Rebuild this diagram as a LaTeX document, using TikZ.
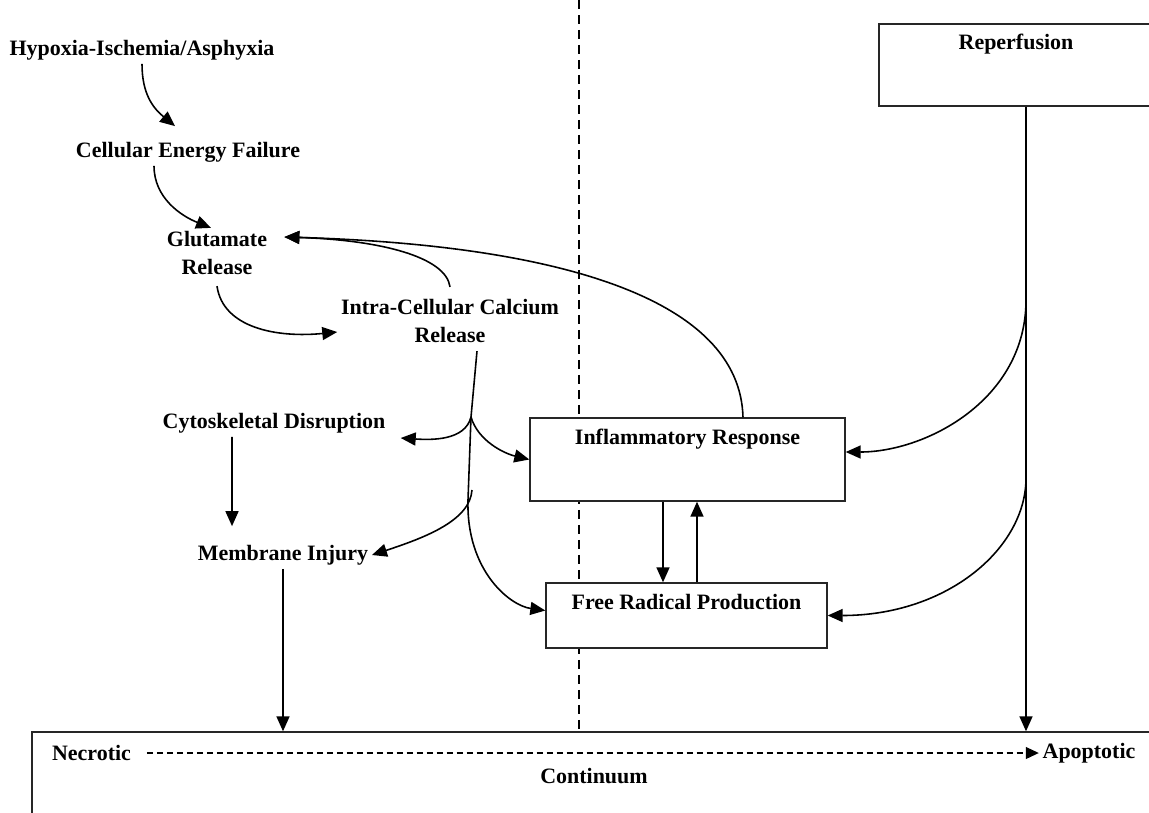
\documentclass[tikz,border=0pt]{standalone}
\usepackage{fontspec}
\setmainfont{Liberation Serif}
\usetikzlibrary{arrows.meta}

\begin{document}
\begin{tikzpicture}[x=0.02cm, y=-0.02cm,
  every node/.style={font=\fontsize{12.5}{15.4}\selectfont\bfseries},
  txt/.style={inner sep=2pt, align=center},
  procbox/.style={draw=black!85, fill=white, line width=0.8pt, inner sep=0pt},
  lbl/.style={anchor=north, yshift=-0.16cm, inner sep=2pt},
  arr/.style={line width=0.9pt, -{Triangle[length=0.3cm, width=0.26cm]}}]
\useasboundingbox (0,0) rectangle (1149,812);

% dividing line
\draw[line width=0.7pt, dash pattern=on 0.18cm off 0.12cm] (579,0) -- (579,732);

% cascade
\node[txt] (hypoxia) at (142,50) {Hypoxia-Ischemia/Asphyxia};
\node[txt] (energy) at (188,152) {Cellular Energy Failure};
\node[txt] (glutamate) at (217,253) {Glutamate\\Release};
\node[txt] (calcium) at (450,321) {Intra-Cellular Calcium\\Release};
\node[txt] (cyto) at (274,423) {Cytoskeletal Disruption};
\node[txt] (membrane) at (283,555) {Membrane Injury};

% boxes
\node[procbox, minimum width=6.3cm, minimum height=1.66cm,
  label={[lbl]north:Inflammatory Response}] (inflam) at (687.5,459.5) {};
\node[procbox, minimum width=5.62cm, minimum height=1.3cm,
  label={[lbl]north:Free Radical Production}] (radical) at (686.5,615.5) {};
\node[procbox, minimum width=5.48cm, minimum height=1.64cm,
  label={[lbl, yshift=0.02cm]north:Reperfusion}] (reperf) at (1016,65) {};
\node[procbox, minimum width=22.48cm, minimum height=1.8cm,
  label={[lbl, yshift=-0.5cm]north:Continuum}] (outcome) at (594,777) {};
\node[txt] (necrotic) at (91.5,753) {Necrotic};
\node[txt] (apoptotic) at (1089,753) {Apoptotic};

% left chain
\draw[arr] (hypoxia.south) .. controls +(0,30) and +(-22,-18) .. ([xshift=-0.26cm, yshift=0.24cm]energy.north);
\draw[arr] ([xshift=-0.68cm]energy.south) .. controls +(0,32) and +(-30,-12) .. ([xshift=-0.12cm]glutamate.north);
\draw[arr] ([yshift=-0.16cm]glutamate.south) .. controls +(6,42) and +(-60,6) .. ([yshift=-0.22cm]calcium.west);
\draw[arr] ([yshift=0.18cm]calcium.north) .. controls +(-4,-30) and +(96,3) .. ([xshift=0.27cm, yshift=0.32cm]glutamate.east);
\draw[arr] ([xshift=1.11cm]inflam.north) .. controls +(-3,-118) and +(276,8) .. ([xshift=0.27cm, yshift=0.32cm]glutamate.east);

% calcium branches
\coordinate (casplit) at (471,417);
\coordinate (mbsplit) at (472,490);
\draw[line width=0.9pt] ([xshift=0.54cm, yshift=-0.1cm]calcium.south) -- (casplit);
\draw[arr] (casplit) .. controls +(-6,24) and +(30,2) .. ([xshift=0.23cm, yshift=-0.3cm]cyto.east);
\draw[arr] (casplit) .. controls +(7,24) and +(-25,-6) .. (inflam.west);
\draw[arr] (casplit) -- ++(-3,83) .. controls +(-2,70) and +(-36,-5) .. ([yshift=0.1cm]radical.west);
\draw[arr] (mbsplit) .. controls +(-2,30) and +(55,-18) .. (membrane.east);

\draw[arr] ([xshift=-0.84cm]cyto.south) -- ([xshift=-1.02cm, yshift=0.3cm]membrane.north);
\draw[arr] (membrane.south) -- (membrane.south |- outcome.north);

% inflammation <-> radicals
\draw[arr] ([xshift=-0.49cm]inflam.south) -- ([xshift=-0.49cm]inflam.south |- radical.north);
\draw[arr] ([xshift=0.19cm]inflam.south |- radical.north) -- ([xshift=0.19cm]inflam.south);

% reperfusion
\coordinate (rpa) at (1026,300);
\coordinate (rpb) at (1026,478);
\draw[arr] ([xshift=0.2cm]reperf.south) -- ([xshift=0.2cm]reperf.south |- outcome.north);
\draw[arr] (rpa) .. controls +(0,100) and +(80,0) .. ([yshift=0.15cm]inflam.east);
\draw[arr] (rpb) .. controls +(0,70) and +(120,0) .. (radical.east);

% continuum
\draw[line width=0.6pt, dash pattern=on 0.12cm off 0.08cm, shorten <=0.24cm,
  -{Triangle[length=0.26cm, width=0.24cm]}] (necrotic.east) -- (apoptotic.west);
\end{tikzpicture}
\end{document}
